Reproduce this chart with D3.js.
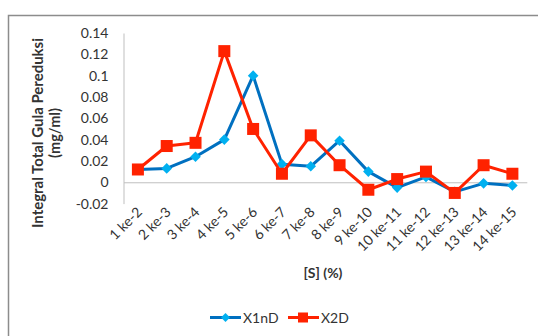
<!DOCTYPE html>
<html><head><meta charset="utf-8">
<script src="https://cdn.jsdelivr.net/npm/d3@7"></script>
<style>body{margin:0;background:#fff}svg{display:block}</style>
</head><body>
<svg id="c" width="538" height="336"></svg>
<script>
const categories = ["1 ke-2","2 ke-3","3 ke-4","4 ke-5","5 ke-6","6 ke-7","7 ke-8","8 ke-9","9 ke-10","10 ke-11","11 ke-12","12 ke-13","13 ke-14","14 ke-15"];
const x1nD = [0.012,0.013,0.024,0.040,0.100,0.017,0.015,0.039,0.010,-0.005,0.005,-0.009,-0.001,-0.003];
const x2D  = [0.012,0.034,0.037,0.123,0.050,0.008,0.044,0.016,-0.007,0.003,0.010,-0.010,0.016,0.008];
const yTicks = [-0.02,0,0.02,0.04,0.06,0.08,0.1,0.12,0.14];
const yTickLabels = ["-0.02","0","0.02","0.04","0.06","0.08","0.1","0.12","0.14"];

const font = "Lato, 'Open Sans', sans-serif";
const fs = 14;
const svg = d3.select("#c");
// frame
svg.append("path").attr("d","M8.5,336 L8.5,15.5 L538,15.5").attr("fill","none").attr("stroke","#8c8c8c").attr("stroke-width",1.5);

const x = d3.scaleBand().domain(categories).range([123.5,526.8]);
const y = d3.scaleLinear().domain([-0.02,0.14]).range([203.6,33]);

// y axis
const ya = svg.append("g").attr("transform","translate(123.5,0)")
  .call(d3.axisLeft(y).tickValues(yTicks).tickSize(0).tickPadding(15).tickFormat((d,i)=>yTickLabels[i]));
ya.select(".domain").attr("stroke","#bfbfbf");
ya.selectAll("text").attr("font-family",font).attr("font-size",fs).attr("fill","#333");

// zero line / x axis
const xa = svg.append("g").attr("transform",`translate(0,${y(0)})`)
  .call(d3.axisBottom(x).tickSize(0).tickFormat(()=>""));
xa.select(".domain").attr("stroke","#bfbfbf");

// x labels rotated
svg.append("g").selectAll("text").data(categories).join("text")
  .attr("transform",d=>`translate(${x(d)+x.bandwidth()/2+5},${213}) rotate(-45)`)
  .attr("text-anchor","end").attr("font-family",font).attr("font-size",fs).attr("fill","#333")
  .text(d=>d);

// titles
svg.append("text").attr("x",323).attr("y",278).attr("text-anchor","middle")
  .attr("font-family",font).attr("font-weight","bold").attr("font-size",fs).attr("fill","#333").text("[S] (%)");
const yt = svg.append("text").attr("transform","translate(43,133) rotate(-90)")
  .attr("text-anchor","middle").attr("font-family",font).attr("font-weight","bold").attr("font-size",14.5).attr("fill","#333");
yt.append("tspan").attr("x",0).attr("dy",0).attr("textLength",190).attr("lengthAdjust","spacingAndGlyphs").text("Integral Total Gula Pereduksi");
yt.append("tspan").attr("x",0).attr("dy",17).text("(mg/ml)");

const cx = d => x(d)+x.bandwidth()/2;
const line = d3.line().x((d,i)=>cx(categories[i])).y(d=>y(d));

const blue="#0070C0", blueM="#00B0F0", red="#FF2200";
svg.append("path").datum(x1nD).attr("d",line).attr("fill","none").attr("stroke",blue).attr("stroke-width",3).attr("stroke-linejoin","round");
svg.append("g").selectAll("path").data(x1nD).join("path")
  .attr("d",d3.symbol(d3.symbolSquare, 56))
  .attr("transform",(d,i)=>`translate(${cx(categories[i])},${y(d)}) rotate(45)`)
  .attr("fill",blueM);

svg.append("path").datum(x2D).attr("d",line).attr("fill","none").attr("stroke",red).attr("stroke-width",3).attr("stroke-linejoin","round");
svg.append("g").selectAll("rect").data(x2D).join("rect")
  .attr("x",(d,i)=>cx(categories[i])-6).attr("y",d=>y(d)-6).attr("width",12).attr("height",12)
  .attr("fill",red);

// legend
const lg = svg.append("g").attr("transform","translate(0,317.5)");
lg.append("line").attr("x1",210).attr("x2",241).attr("stroke",blue).attr("stroke-width",3);
lg.append("path").attr("d",d3.symbol(d3.symbolSquare,40)).attr("transform","translate(225.5,0) rotate(45)").attr("fill",blueM);
lg.append("text").attr("x",243).attr("y",5).attr("font-family",font).attr("font-size",fs).attr("fill","#333").text("X1nD");
lg.append("line").attr("x1",288).attr("x2",319).attr("stroke",red).attr("stroke-width",3);
lg.append("rect").attr("x",298).attr("y",-5).attr("width",10).attr("height",10).attr("fill",red);
lg.append("text").attr("x",321).attr("y",5).attr("font-family",font).attr("font-size",fs).attr("fill","#333").text("X2D");
</script>
</body></html>
